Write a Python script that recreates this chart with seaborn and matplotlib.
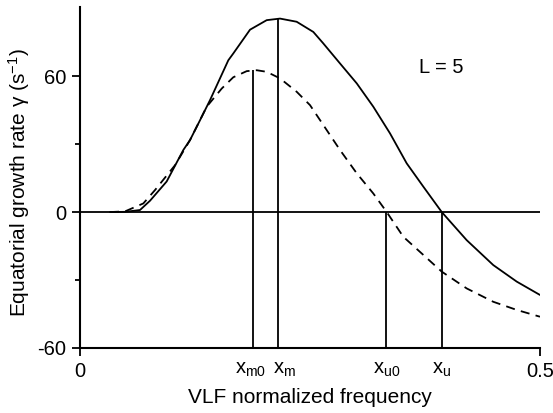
import numpy as np
import matplotlib
matplotlib.use("Agg")
import matplotlib.pyplot as plt
import seaborn as sns

# Data
solid_x = [0.0326, 0.0489, 0.0652, 0.0761, 0.0942, 0.1123, 0.1196, 0.1304, 0.1413,
           0.1612, 0.1666, 0.1848, 0.2029, 0.2174, 0.2355, 0.2536, 0.2641, 0.2826,
           0.3008, 0.3188, 0.3370, 0.3551, 0.3732, 0.3932, 0.4203, 0.4492, 0.4747, 0.5]
solid_y = [0.0, 0.1, 0.9, 5.0, 13.5, 27.4, 31.8, 40.5, 49.4,
           67.0, 70.0, 80.5, 84.7, 85.4, 84.0, 79.5, 74.6, 65.6,
           56.8, 46.5, 34.7, 21.5, 11.2, 0.0, -12.4, -23.4, -30.7, -36.6]
dashed_x = [0.0326, 0.0489, 0.0688, 0.0815, 0.1033, 0.1196, 0.1377, 0.1540, 0.1666,
            0.1812, 0.1921, 0.2029, 0.2174, 0.2355, 0.2500, 0.2645, 0.2826, 0.3008,
            0.3188, 0.3334, 0.3514, 0.3932, 0.4203, 0.4492, 0.4747, 0.5]
dashed_y = [0.0, 0.3, 3.8, 9.7, 20.7, 31.8, 46.5, 54.5, 59.5,
            62.2, 62.6, 61.9, 59.0, 53.1, 47.2, 38.4, 27.4, 17.1,
            8.2, 0.0, -10.9, -26.3, -33.7, -39.6, -43.2, -46.2]

marker_x = [0.188, 0.215, 0.333, 0.393]
marker_top = [62.6, 85.4, 0.0, 0.0]
marker_labels = ["x$_{m0}$", "x$_{m}$", "x$_{u0}$", "x$_{u}$"]
marker_label_dx = [-2, 5, 0, 0]  # label nudges in points

major_xticks = [0, 0.5]
major_xlabels = ["0", "0.5"]
major_yticks = [-60, 0, 60]
minor_yticks = [-30, 30]

sns.set_style("ticks")
plt.rcParams['font.family'] = ['Liberation Sans', 'DejaVu Sans']
plt.rcParams['mathtext.default'] = 'regular'
plt.rcParams['axes.unicode_minus'] = False

fig = plt.figure(figsize=(5.53, 4.13), dpi=100)
ax = fig.add_axes([0.1447, 0.1574, 0.9765 - 0.1447, 0.983 - 0.1574])

sns.lineplot(x=solid_x, y=solid_y, ax=ax, color="black", linewidth=1.3)
sns.lineplot(x=dashed_x, y=dashed_y, ax=ax, color="black", linewidth=1.3,
             linestyle=(0, (5, 3.5)))
ax.axhline(0, color="black", linewidth=1.3)
ax.vlines(marker_x, -60, marker_top, color="black", linewidth=1.3)

ax.set_xlim(0, 0.5)
ax.set_ylim(-60, 90.5)
ax.set_xticks(major_xticks)
ax.set_xticklabels(major_xlabels)
ax.set_yticks(major_yticks)
ax.set_yticks(minor_yticks, minor=True)

ax.tick_params(axis="both", which="major", direction="out", length=6, width=1.3,
               labelsize=14.5, color="black", labelcolor="black", pad=4)
ax.tick_params(axis="y", which="minor", direction="out", length=3.5, width=1.3, color="black")

for xv, lab, dx in zip(marker_x, marker_labels, marker_label_dx):
    ax.annotate(lab, xy=(xv, 0), xycoords=("data", "axes fraction"),
                xytext=(dx, -8.5), textcoords="offset points",
                ha="center", va="top", fontsize=14.5, color="black")

for s in ["top", "right"]:
    ax.spines[s].set_visible(False)
for s in ["left", "bottom"]:
    ax.spines[s].set_linewidth(1.5)
    ax.spines[s].set_color("black")

ax.set_xlabel("VLF normalized frequency", fontsize=15, color="black")
ax.xaxis.set_label_coords(0.5, -0.118)
ax.set_ylabel("Equatorial growth rate \u03b3 (s$^{-1}$)", fontsize=15, color="black")
ax.yaxis.set_label_coords(-0.104, 0.485)

ax.text(0.3685, 64, "L = 5", fontsize=14.5, color="black", ha="left", va="center")

fig.savefig("out.png", dpi=100)
